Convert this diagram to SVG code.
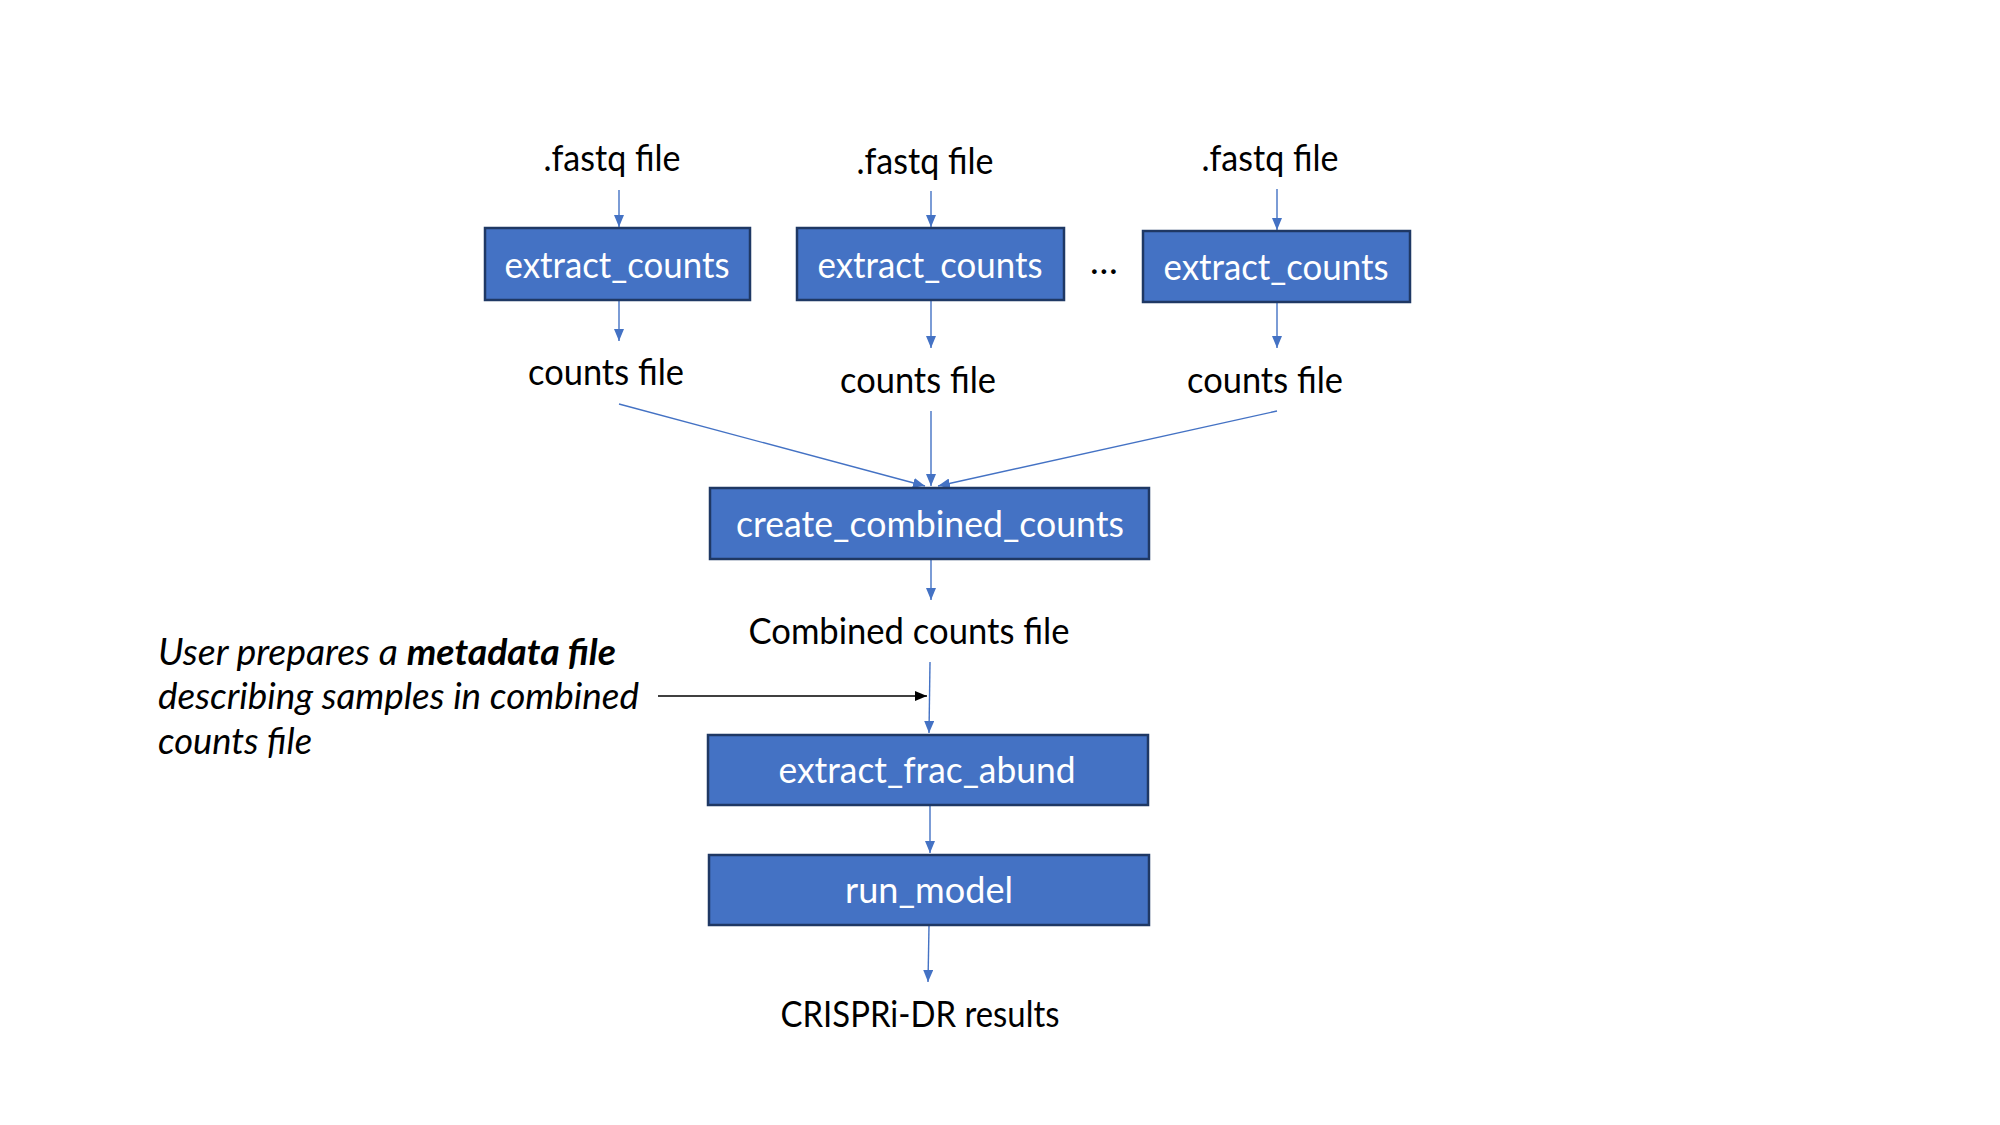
<svg xmlns="http://www.w3.org/2000/svg" width="2000" height="1125" viewBox="0 0 2000 1125">
<style>
.box{fill:#4472C4;stroke:#1F3864;stroke-width:2.5}
.bt{font-family:Lato,"Open Sans",sans-serif;font-size:37px;fill:#fff;text-anchor:middle}
.lbl{font-family:Lato,"Open Sans",sans-serif;font-size:37px;fill:#000;text-anchor:middle}
.note{font-family:Lato,"Open Sans",sans-serif;font-size:37px;fill:#000;font-style:italic}
.c{stroke:#4472C4;stroke-width:1.4;fill:none;marker-end:url(#ah)}
.k{stroke:#000;stroke-width:1.4;fill:none;marker-end:url(#ak)}
</style>
<defs>
<marker id="ah" viewBox="0 0 12 10" refX="12" refY="5" markerWidth="12" markerHeight="10" markerUnits="userSpaceOnUse" orient="auto"><path d="M0,0 L12,5 L0,10 z" fill="#4472C4"/></marker>
<marker id="ak" viewBox="0 0 12 10" refX="12" refY="5" markerWidth="12" markerHeight="10" markerUnits="userSpaceOnUse" orient="auto"><path d="M0,0 L12,5 L0,10 z" fill="#000"/></marker>
</defs>
<rect width="2000" height="1125" fill="#fff"/>
<g id="connectors">
<line class="c" x1="619" y1="190" x2="619" y2="227"/>
<line class="c" x1="931" y1="191" x2="931" y2="227"/>
<line class="c" x1="1277" y1="189" x2="1277" y2="230"/>
<line class="c" x1="619" y1="301" x2="619" y2="341"/>
<line class="c" x1="931" y1="301" x2="931" y2="348"/>
<line class="c" x1="1277" y1="303" x2="1277" y2="348"/>
<line class="c" x1="619" y1="404" x2="925" y2="486"/>
<line class="c" x1="931" y1="411" x2="931" y2="486"/>
<line class="c" x1="1277" y1="411" x2="938" y2="486"/>
<line class="c" x1="931" y1="560" x2="931" y2="600"/>
<line class="c" x1="930" y1="662" x2="929" y2="733"/>
<line class="c" x1="930" y1="806" x2="930" y2="853"/>
<line class="c" x1="929" y1="926" x2="928" y2="982"/>
<line class="k" x1="658" y1="696" x2="927" y2="696"/>
</g>
<g id="fastq1"><text class="lbl" x="612" y="171" textLength="137" lengthAdjust="spacingAndGlyphs">.fastq file</text></g>
<g id="fastq2"><text class="lbl" x="925" y="174" textLength="137" lengthAdjust="spacingAndGlyphs">.fastq file</text></g>
<g id="fastq3"><text class="lbl" x="1270" y="171" textLength="137" lengthAdjust="spacingAndGlyphs">.fastq file</text></g>
<g id="extract1"><rect class="box" x="485" y="228" width="265" height="72"/><text class="bt" x="617" y="278" textLength="225" lengthAdjust="spacingAndGlyphs">extract_counts</text></g>
<g id="extract2"><rect class="box" x="797" y="228" width="267" height="72"/><text class="bt" x="930" y="278" textLength="225" lengthAdjust="spacingAndGlyphs">extract_counts</text></g>
<g id="dots"><text class="lbl" x="1104" y="274">…</text></g>
<g id="extract3"><rect class="box" x="1143" y="231" width="267" height="71"/><text class="bt" x="1276" y="280" textLength="225" lengthAdjust="spacingAndGlyphs">extract_counts</text></g>
<g id="counts1"><text class="lbl" x="606" y="385" textLength="156" lengthAdjust="spacingAndGlyphs">counts file</text></g>
<g id="counts2"><text class="lbl" x="918" y="393" textLength="156" lengthAdjust="spacingAndGlyphs">counts file</text></g>
<g id="counts3"><text class="lbl" x="1265" y="393" textLength="156" lengthAdjust="spacingAndGlyphs">counts file</text></g>
<g id="combine"><rect class="box" x="710" y="488" width="439" height="71"/><text class="bt" x="930" y="537" textLength="388" lengthAdjust="spacingAndGlyphs">create_combined_counts</text></g>
<g id="combinedfile"><text class="lbl" x="909" y="644" textLength="321" lengthAdjust="spacingAndGlyphs">Combined counts file</text></g>
<g id="note"><text class="note" x="158" y="665" textLength="458" lengthAdjust="spacingAndGlyphs">User prepares a <tspan font-weight="bold">metadata file</tspan></text><text class="note" x="158" y="709" textLength="481" lengthAdjust="spacingAndGlyphs">describing samples in combined</text><text class="note" x="158" y="754" textLength="154" lengthAdjust="spacingAndGlyphs">counts file</text></g>
<g id="fracabund"><rect class="box" x="708" y="735" width="440" height="70"/><text class="bt" x="927" y="783" textLength="297" lengthAdjust="spacingAndGlyphs">extract_frac_abund</text></g>
<g id="runmodel"><rect class="box" x="709" y="855" width="440" height="70"/><text class="bt" x="929" y="903" textLength="168" lengthAdjust="spacingAndGlyphs">run_model</text></g>
<g id="results"><text class="lbl" x="920" y="1027" textLength="279" lengthAdjust="spacingAndGlyphs">CRISPRi-DR results</text></g>
</svg>
